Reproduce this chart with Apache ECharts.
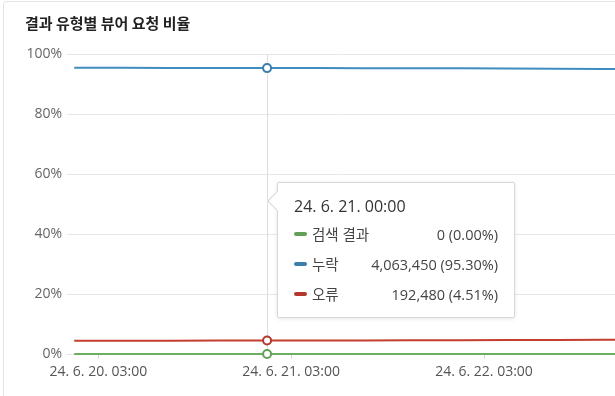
<!DOCTYPE html>
<html>
<head>
<meta charset="utf-8">
<script src="https://cdn.jsdelivr.net/npm/echarts@6/dist/echarts.min.js"></script>
<style>
  html, body { margin: 0; padding: 0; background: #fff; }
  #wrap { position: relative; width: 615px; height: 396px; overflow: hidden; }
  #card { position: absolute; left: 3px; top: 1px; width: 700px; height: 500px; border: 1px solid #e4e4e4; border-radius: 3px; box-sizing: border-box; }
  #chart { position: absolute; left: 0; top: 0; width: 615px; height: 396px; }
  .tip::before {
    content: ''; position: absolute; left: -8px; top: 11px; width: 13px; height: 13px;
    background: #fff; border-left: 1px solid #d8d8d8; border-bottom: 1px solid #d8d8d8;
    transform: rotate(45deg);
  }
</style>
</head>
<body>
<div id="wrap"><div id="card"></div><div id="chart"></div></div>
<script>
// ---- data ----
const chartTitle = '결과 유형별 뷰어 요청 비율';
const seriesNames = ['검색 결과', '누락', '오류'];
const times = [
  '2024-06-20 00:00', '2024-06-20 06:00', '2024-06-20 12:00', '2024-06-20 18:00',
  '2024-06-21 00:00', '2024-06-21 06:00', '2024-06-21 12:00', '2024-06-21 18:00',
  '2024-06-22 00:00', '2024-06-22 06:00', '2024-06-22 12:00', '2024-06-22 18:00',
  '2024-06-23 00:00'
];
const searchPct = [0, 0, 0, 0, 0, 0, 0, 0, 0, 0, 0, 0, 0];
const missPct   = [95.42, 95.40, 95.37, 95.34, 95.30, 95.30, 95.29, 95.28, 95.25, 95.18, 95.10, 95.02, 94.95];
const errorPct  = [4.38, 4.40, 4.43, 4.47, 4.51, 4.52, 4.53, 4.55, 4.58, 4.63, 4.68, 4.74, 4.80];
const searchCount = [0, 0, 0, 0, 0, 0, 0, 0, 0, 0, 0, 0, 0];
const missCount   = [4051200, 4055800, 4058900, 4061300, 4063450, 4064100, 4066000, 4068200, 4070500, 4068900, 4065300, 4061800, 4058700];
const errorCount  = [185950, 187100, 188500, 190600, 192480, 193000, 193600, 194500, 196000, 198100, 200200, 202800, 205300];
const xTickTimes = ['2024-06-20 03:00', '2024-06-21 03:00', '2024-06-22 03:00', '2024-06-23 03:00'];
const yTicks = [0, 20, 40, 60, 80, 100];
const shownIndex = 4;

// ---- helpers ----
function parseT(s) {
  const m = s.match(/(\d+)-(\d+)-(\d+) (\d+):(\d+)/);
  return Date.UTC(+m[1], +m[2] - 1, +m[3], +m[4], +m[5]);
}
function pad(n) { return (n < 10 ? '0' : '') + n; }
function fmtT(v) {
  const d = new Date(v);
  return String(d.getUTCFullYear()).slice(2) + '. ' + (d.getUTCMonth() + 1) + '. ' + d.getUTCDate() + '. ' +
    pad(d.getUTCHours()) + ':' + pad(d.getUTCMinutes());
}
const ts = times.map(parseT);
const pad54 = 54 * 60000;
const colors = ['#629f55', '#3b80ad', '#b3382b'];
const pcts = [searchPct, missPct, errorPct];
const counts = [searchCount, missCount, errorCount];
const FONT = "'Open Sans', 'Noto Sans CJK KR', sans-serif";
const CSSFONT = FONT.replace(/"/g, '');

const chart = echarts.init(document.getElementById('chart'), null, { renderer: 'canvas' });
chart.setOption({
  animation: false,
  textStyle: { fontFamily: FONT },
  title: {
    text: chartTitle, left: 20, top: 11,
    textStyle: { fontFamily: "'Noto Sans CJK KR', sans-serif", fontSize: 15, fontWeight: 'bold', color: '#222' }
  },
  grid: { left: 67, right: -45, top: 54, bottom: 42, outerBoundsMode: 'none', containLabel: false },
  xAxis: {
    type: 'value',
    min: ts[0] - pad54,
    max: ts[ts.length - 1] + pad54,
    splitLine: { show: false },
    axisLine: { show: true, lineStyle: { color: '#e2e2e2' } },
    axisTick: { show: true, length: 5, lineStyle: { color: '#d8d8d8' }, customValues: xTickTimes.map(parseT) },
    axisLabel: {
      customValues: xTickTimes.map(parseT), formatter: fmtT,
      color: '#555', fontSize: 14, margin: 11, fontFamily: FONT
    }
  },
  yAxis: {
    type: 'value', min: 0, max: 100, interval: 20,
    axisLine: { show: false }, axisTick: { show: false },
    splitLine: { lineStyle: { color: '#e8e8e8', width: 1 } },
    axisLabel: { formatter: '{value}%', color: '#666', fontSize: 14, margin: 5, fontFamily: FONT }
  },
  tooltip: {
    trigger: 'axis', triggerOn: 'none', alwaysShowContent: true, transitionDuration: 0,
    className: 'tip',
    backgroundColor: '#fff', borderColor: '#d8d8d8', borderWidth: 1,
    padding: [12, 16, 8, 16],
    extraCssText: 'box-shadow: 0 1px 4px rgba(0,0,0,0.10); border-radius: 2px; width: 204px;',
    position: function () { return [277, 182]; },
    axisPointer: { type: 'line', z: 1, lineStyle: { color: '#dedede', width: 1, type: 'solid' }, label: { show: false } },
    formatter: function (params) {
      const idx = params[0].dataIndex;
      let h = '<div style="font-family:' + CSSFONT + ';font-size:16px;line-height:22px;color:#333;">' + fmtT(ts[idx]) + '</div>';
      h += '<div style="margin-top:2px;">';
      params.forEach(function (p) {
        const si = p.seriesIndex;
        const c = counts[si][idx].toLocaleString('en-US');
        const pc = pcts[si][idx].toFixed(2);
        h += '<div style="display:flex;align-items:center;height:30px;font-family:' + CSSFONT + ';font-size:14.5px;color:#444;">' +
          '<span style="display:inline-block;width:13px;height:4px;border-radius:2px;background:' + colors[si] + ';margin-right:5px;"></span>' +
          '<span>' + seriesNames[si] + '</span><span style="flex:1"></span><span>' + c + ' (' + pc + '%)</span></div>';
      });
      h += '</div>';
      return h;
    }
  },
  series: seriesNames.map(function (name, i) {
    return {
      name: name, type: 'line',
      data: ts.map(function (t, j) { return [t, pcts[i][j]]; }),
      showSymbol: false, symbol: 'emptyCircle', symbolSize: 8,
      lineStyle: { color: colors[i], width: 2 },
      itemStyle: { color: colors[i], borderWidth: 2 },
      emphasis: { scale: false, lineStyle: { width: 2 } }
    };
  })
});
chart.dispatchAction({ type: 'showTip', seriesIndex: 1, dataIndex: shownIndex });
</script>
</body>
</html>
